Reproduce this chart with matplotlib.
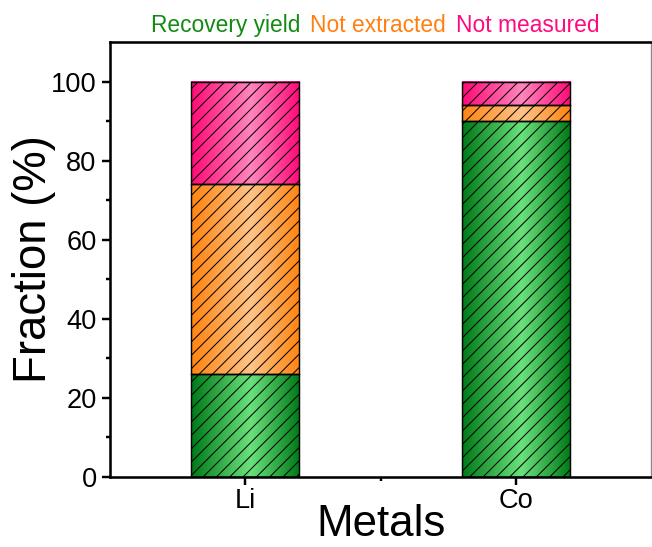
import numpy as np
import matplotlib
matplotlib.use("Agg")
import matplotlib.pyplot as plt
from matplotlib.colors import LinearSegmentedColormap

plt.rcParams['font.family'] = ['Liberation Sans', 'DejaVu Sans']
plt.rcParams['hatch.linewidth'] = 0.9

# data
metals = ["Li", "Co"]
recovery = [26, 90]
not_extracted = [48, 4]
not_measured = [26, 6]
series_names = ["Recovery yield", "Not extracted", "Not measured"]
text_colors = ["#138a13", "#ff8010", "#ff0a80"]

# gradient colors (edge, middle) per series
grad_colors = [("#007a18", "#6ae27c"), ("#ff8410", "#ffc487"), ("#ff0a78", "#ff86bc")]

fig = plt.figure(figsize=(8.15, 6.8375), dpi=80)
ax = fig.add_axes([0.1687, 0.128, 0.83, 0.7952])

x = np.arange(1, len(metals) + 1)
width = 0.4
grad = np.linspace(0, 1, 200).reshape(1, -1)

bottoms = np.zeros(len(metals))
for vals, (c_edge, c_mid) in zip([recovery, not_extracted, not_measured], grad_colors):
    cmap = LinearSegmentedColormap.from_list("g", [(0, c_edge), (0.55, c_mid), (1, c_edge)])
    for i in range(len(metals)):
        ax.imshow(grad, extent=[x[i] - width / 2, x[i] + width / 2, bottoms[i], bottoms[i] + vals[i]],
                  aspect='auto', cmap=cmap, zorder=1)
    ax.bar(x, vals, width, bottom=bottoms, facecolor='none', edgecolor='black',
           hatch='//', linewidth=1.3, zorder=2)
    bottoms = bottoms + np.array(vals)

ax.set_xlim(0.5, 2.5)
ax.set_ylim(0, 110)
ax.set_xticks(x)
ax.set_xticklabels(metals)
ax.set_xticks([1.5], minor=True)
ax.set_yticks([0, 20, 40, 60, 80, 100])
ax.set_yticks(np.arange(10, 110, 20), minor=True)

ax.tick_params(axis='both', which='major', labelsize=24.5, width=2.2, length=7, pad=5)
ax.tick_params(axis='x', which='major', pad=3)
ax.tick_params(axis='both', which='minor', width=2.2, length=4)
for side in ['left', 'bottom', 'top']:
    ax.spines[side].set_linewidth(2.3)
ax.spines['right'].set_linewidth(1.2)
ax.spines['right'].set_color('#888888')

ax.set_xlabel("Metals", fontsize=39.5, labelpad=-9)
ax.set_ylabel("Fraction (%)", fontsize=41, labelpad=-5)

# text legend above the plot
handles = [plt.Line2D([], [], color=c, linestyle='none') for c in text_colors]
leg = ax.legend(handles, series_names, loc='lower center', bbox_to_anchor=(0.49, 1.012),
                ncol=3, frameon=False, handlelength=0, handletextpad=0, columnspacing=0.45,
                fontsize=20.5, labelcolor=text_colors, borderpad=0, borderaxespad=0)

fig.savefig("out.png", dpi=80)
